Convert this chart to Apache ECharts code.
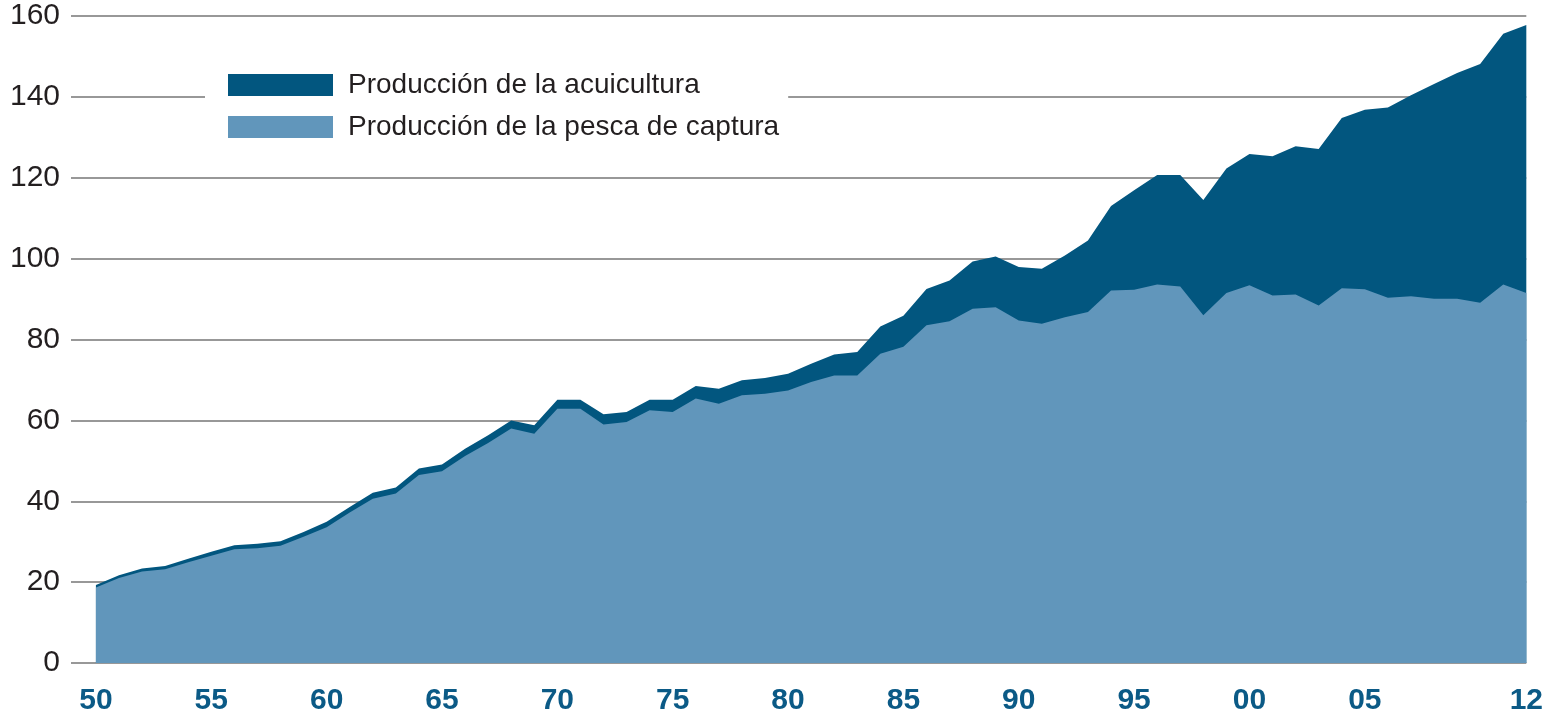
<!DOCTYPE html>
<html>
<head>
<meta charset="utf-8">
<script src="https://cdn.jsdelivr.net/npm/echarts@6/dist/echarts.min.js"></script>
<style>
  html, body { margin: 0; padding: 0; background: #fff; }
  #chart { width: 1546px; height: 718px; }
</style>
</head>
<body>
<div id="chart"></div>
<script>
// años 1950-2012
const years = [];
for (let y = 1950; y <= 2012; y++) years.push(y);

// millones de toneladas
const captura = [
  18.7, 21.0, 22.6, 23.2, 24.9, 26.5, 28.1, 28.4, 29.0, 31.2,
  33.6, 37.2, 40.6, 41.9, 46.5, 47.4, 51.2, 54.4, 58.0, 56.7,
  62.9, 62.9, 59.0, 59.6, 62.5, 62.1, 65.4, 64.1, 66.2, 66.6,
  67.4, 69.5, 71.1, 71.1, 76.5, 78.2, 83.5, 84.5, 87.6, 88.0,
  84.7, 83.9, 85.5, 86.8, 92.1, 92.3, 93.6, 93.1, 86.0, 91.5,
  93.4, 90.9, 91.1, 88.4, 92.7, 92.4, 90.3, 90.7, 90.1, 90.1,
  89.1, 93.6, 91.5
];
const acuicultura = [
  0.6, 0.7, 0.8, 0.8, 0.9, 1.0, 1.0, 1.1, 1.1, 1.2,
  1.3, 1.4, 1.5, 1.5, 1.6, 1.7, 1.8, 1.9, 2.0, 2.1,
  2.2, 2.2, 2.5, 2.5, 2.6, 3.0, 3.1, 3.7, 3.7, 3.9,
  4.1, 4.5, 5.2, 5.8, 6.7, 7.7, 9.0, 10.1, 11.7, 12.5,
  13.2, 13.6, 15.3, 17.7, 20.9, 24.6, 27.1, 27.6, 28.5, 30.8,
  32.5, 34.4, 36.7, 38.7, 42.1, 44.4, 47.1, 49.7, 53.1, 55.8,
  59.0, 62.0, 66.3
];
const xTicks = [1950, 1955, 1960, 1965, 1970, 1975, 1980, 1985, 1990, 1995, 2000, 2005, 2012];
const yTicks = [0, 20, 40, 60, 80, 100, 120, 140, 160];

const names = ['Producción de la acuicultura', 'Producción de la pesca de captura'];
const DARK = '#02567f';
const LIGHT = '#6196bb';
const FONT = '"Liberation Sans", Arial, sans-serif';

// la acuicultura se apila encima de la captura
const total = years.map((y, i) => [y, +(captura[i] + acuicultura[i]).toFixed(1)]);
const capturaPts = years.map((y, i) => [y, captura[i]]);

const chart = echarts.init(document.getElementById('chart'));
chart.setOption({
  animation: false,
  grid: { left: 71, right: 18, top: 16, bottom: 55, containLabel: false },
  legend: {
    data: names,
    orient: 'vertical',
    left: 205,
    top: 63,
    padding: [8, 9, 8, 23],
    backgroundColor: '#fff',
    icon: 'rect',
    itemWidth: 105,
    itemHeight: 22,
    itemGap: 14,
    selectedMode: false,
    textStyle: { fontFamily: FONT, fontSize: 28, color: '#231f20', padding: [0, 0, 0, 10] }
  },
  xAxis: {
    type: 'value',
    min: 1948.92,
    max: 2012,
    axisLine: { show: false },
    axisTick: { show: false },
    splitLine: { show: false },
    axisLabel: {
      customValues: xTicks,
      formatter: v => String(v).slice(2),
      fontFamily: FONT,
      fontWeight: 'bold',
      fontSize: 30,
      color: '#0b5a86',
      margin: 23
    }
  },
  yAxis: {
    type: 'value',
    min: yTicks[0],
    max: yTicks[yTicks.length - 1],
    interval: 20,
    axisLine: { show: false },
    axisTick: { show: false },
    axisLabel: { fontFamily: FONT, fontSize: 30, color: '#231f20', margin: 11 },
    splitLine: { lineStyle: { color: '#767676', width: 1.5 } }
  },
  series: [
    {
      name: names[0],
      type: 'line',
      data: total,
      showSymbol: false,
      lineStyle: { width: 0 },
      itemStyle: { color: DARK },
      areaStyle: { color: DARK, opacity: 1 },
      z: 2
    },
    {
      name: names[1],
      type: 'line',
      data: capturaPts,
      showSymbol: false,
      lineStyle: { width: 0 },
      itemStyle: { color: LIGHT },
      areaStyle: { color: LIGHT, opacity: 1 },
      z: 3
    }
  ]
});
</script>
</body>
</html>
